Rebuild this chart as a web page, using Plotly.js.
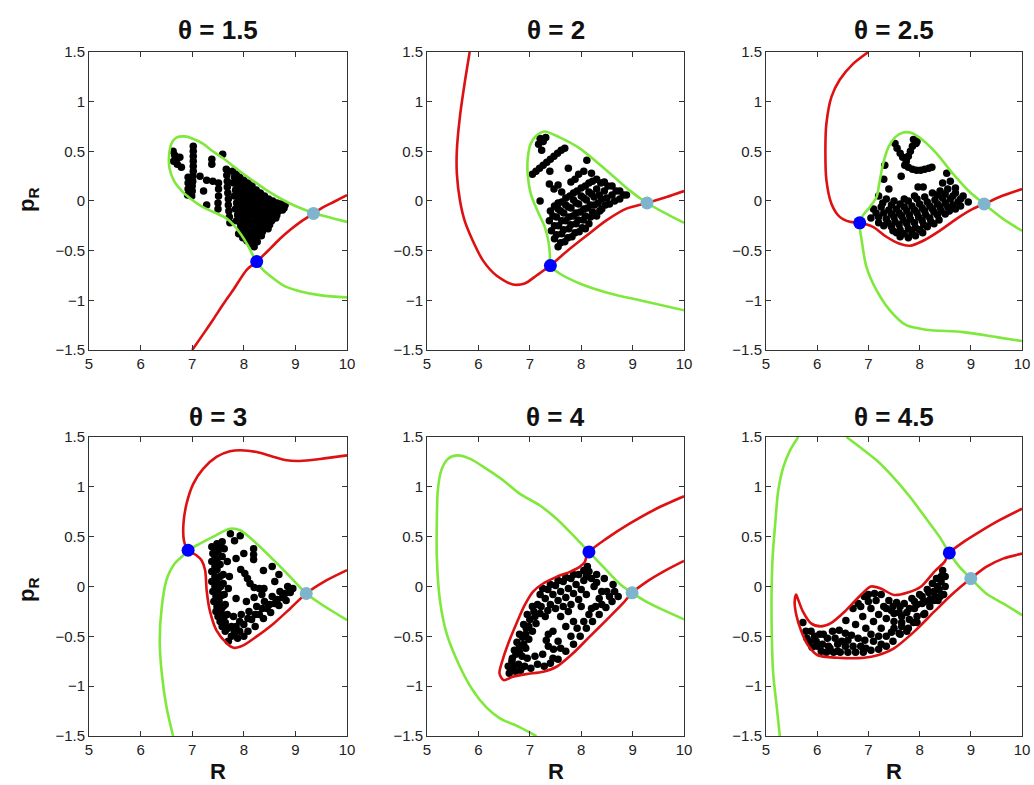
<!DOCTYPE html>
<html>
<head>
<meta charset="utf-8">
<script src="https://cdn.plot.ly/plotly-3.0.1.min.js"></script>
<style>html,body{margin:0;padding:0;background:#fff;}#chart{width:1034px;height:785px;}</style>
</head>
<body>
<div id="chart"></div>
<script>
// ---------- data ----------
const thetas = ['1.5', '2', '2.5', '3', '4', '4.5'];
const xTicks = [5, 6, 7, 8, 9, 10];
const yTicks = [-1.5, -1, -0.5, 0, 0.5, 1, 1.5];

// panel 1 (theta = 1.5)
const green1R = [10,9.7,9.35,9.0,8.8,8.5,8.3,8.0,7.8,7.6,7.4,7.2,7.0,6.85,6.7,6.6,6.55,6.56,6.65,6.8,6.95,7.2,7.45,7.65,7.8,7.95,8.08,8.18,8.25,8.35,8.5,8.8,9.1,9.5,10];
const green1P = [-0.21,-0.17,-0.12,-0.05,0.0,0.09,0.16,0.27,0.35,0.43,0.5,0.58,0.63,0.65,0.64,0.58,0.45,0.33,0.2,0.1,0.03,-0.06,-0.12,-0.17,-0.24,-0.34,-0.45,-0.55,-0.61,-0.68,-0.75,-0.86,-0.91,-0.95,-0.97];
const red1R = [7.0,7.2,7.41,7.6,7.8,8.06,8.25,8.51,8.7,8.9,9.1,9.35,9.55,9.74,10];
const red1P = [-1.5,-1.35,-1.19,-1.04,-0.89,-0.69,-0.61,-0.48,-0.38,-0.29,-0.21,-0.125,-0.06,-0.01,0.06];
const blue1 = [8.25, -0.61];
const lblue1 = [9.35, -0.125];
const dots1 = [[6.63,0.50],[6.66,0.46],[6.68,0.41],[6.71,0.37],[6.76,0.44],[6.79,0.34],[6.64,0.40],
[7.02,0.55],[7.02,0.50],[7.02,0.45],[7.02,0.40],[7.02,0.35],[7.02,0.30],[7.01,0.25],[7.01,0.20],[7.00,0.15],[7.00,0.10],[6.99,0.05],
[6.92,0.24],[6.92,0.18],[6.92,0.12],[6.91,0.06],[7.15,0.25],[7.28,0.21],[7.40,0.20],[7.22,0.10],
[7.38,0.42],[7.38,0.37],[7.59,0.47],[7.28,-0.04],
[7.51,0.18],[7.51,0.12],[7.51,0.05],[7.50,-0.02],[7.50,-0.08],
[7.66,0.32],[7.67,0.26],[7.68,0.20],[7.68,0.14],[7.69,0.08],[7.70,0.02],[7.70,-0.04],[7.71,-0.10],[7.72,-0.16],[7.73,-0.22],
[7.78,0.30],[7.85,0.27],[7.92,0.24],[8.00,0.21],[8.08,0.18],[8.16,0.15],[8.24,0.11],[8.32,0.08],[8.40,0.05],[8.48,0.02],[8.56,0.00],[8.64,-0.02],[8.72,-0.03],[8.80,-0.04],
[7.82,0.24],[7.90,0.21],[7.98,0.18],[8.06,0.15],[8.14,0.12],[8.22,0.09],[8.30,0.05],[8.38,0.02],[8.46,-0.01],[8.54,-0.03],[8.62,-0.05],[8.70,-0.06],[8.78,-0.07],
[7.80,0.18],[7.88,0.15],[7.95,0.12],[8.03,0.09],[8.11,0.06],[8.19,0.03],[8.27,0.00],[8.35,-0.03],[8.43,-0.05],[8.51,-0.07],[8.59,-0.09],[8.67,-0.10],[8.75,-0.09],
[7.84,0.11],[7.92,0.08],[8.00,0.05],[8.08,0.02],[8.16,-0.01],[8.24,-0.04],[8.32,-0.07],[8.40,-0.10],[8.48,-0.12],[8.56,-0.14],[8.64,-0.14],
[7.82,0.05],[7.90,0.02],[7.98,-0.01],[8.06,-0.04],[8.14,-0.07],[8.22,-0.10],[8.30,-0.13],[8.38,-0.16],[8.46,-0.18],[8.54,-0.20],[8.62,-0.17],
[7.86,-0.02],[7.94,-0.05],[8.02,-0.08],[8.10,-0.11],[8.18,-0.14],[8.26,-0.18],[8.34,-0.21],[8.42,-0.22],[8.50,-0.24],
[7.84,-0.08],[7.92,-0.11],[8.00,-0.14],[8.08,-0.17],[8.16,-0.21],[8.24,-0.24],[8.32,-0.27],[8.40,-0.27],[8.47,-0.28],
[7.88,-0.14],[7.96,-0.18],[8.04,-0.21],[8.12,-0.24],[8.20,-0.28],[8.28,-0.31],[8.36,-0.31],
[7.86,-0.20],[7.94,-0.24],[8.02,-0.27],[8.10,-0.31],[8.18,-0.34],[8.26,-0.36],[8.34,-0.35],
[7.94,-0.28],[8.02,-0.32],[8.10,-0.36],[8.18,-0.39],[8.26,-0.41],
[7.90,-0.33],[7.98,-0.37],[8.06,-0.40],[8.14,-0.43],[8.20,-0.46],[8.22,-0.40]];

// panel 2 (theta = 2)
const green2R = [10,9.66,9.28,8.94,8.49,7.97,7.58,7.29,7.13,7.02,6.96,6.96,7.02,7.15,7.29,7.36,7.39,7.40,7.58,7.97,8.49,9.14,10];
const green2P = [-0.22,-0.13,-0.02,0.107,0.31,0.53,0.64,0.70,0.66,0.58,0.43,0.26,0.07,-0.10,-0.26,-0.40,-0.53,-0.65,-0.73,-0.83,-0.92,-1.0,-1.10];
const red2R = [5.83,5.73,5.64,5.58,5.58,5.64,5.73,5.89,6.09,6.35,6.67,6.9,7.13,7.40,7.71,8.1,8.49,8.88,9.28,9.66,10];
const red2P = [1.5,1.18,0.85,0.51,0.275,0.007,-0.195,-0.40,-0.60,-0.75,-0.84,-0.83,-0.75,-0.65,-0.51,-0.35,-0.195,-0.077,-0.02,0.04,0.10];
const blue2 = [7.40, -0.65];
const lblue2 = [9.28, -0.02];
const dots2 = [[7.20,0.63],[7.26,0.60],[7.31,0.64],[7.17,0.57],[7.23,0.51],
[7.05,0.27],[7.12,0.30],[7.19,0.33],[7.26,0.36],[7.33,0.39],[7.40,0.42],[7.47,0.45],[7.54,0.48],[7.61,0.51],[7.68,0.53],
[7.39,0.30],[7.75,0.33],[8.11,0.41],[7.20,0.00],[7.38,0.17],[7.47,0.12],[7.55,0.16],[7.62,0.09],[7.80,0.19],[7.95,0.27],[8.05,0.30],[8.20,0.28],[7.88,0.22],
[7.55,-0.02],[7.70,0.03],[7.85,0.08],[8.00,0.13],[8.15,0.18],[8.30,0.22],[8.45,0.19],[8.60,0.15],[8.75,0.10],[8.88,0.06],
[7.48,-0.05],[7.62,-0.01],[7.78,0.05],[7.92,0.10],[8.08,0.15],[8.22,0.20],[8.38,0.18],[8.52,0.15],[8.68,0.10],[8.82,0.06],
[7.40,-0.10],[7.55,-0.08],[7.70,-0.04],[7.85,0.01],[8.00,0.05],[8.15,0.09],[8.30,0.12],[8.45,0.10],[8.60,0.06],[8.75,0.02],
[7.45,-0.15],[7.60,-0.10],[7.75,-0.06],[7.90,-0.02],[8.05,0.03],[8.20,0.07],[8.35,0.06],[8.50,0.03],[8.65,0.00],
[7.38,-0.20],[7.52,-0.16],[7.66,-0.12],[7.80,-0.07],[7.95,-0.03],[8.10,0.01],[8.25,0.04],[8.40,0.02],[8.55,-0.03],
[7.48,-0.25],[7.62,-0.20],[7.76,-0.16],[7.90,-0.12],[8.05,-0.08],[8.18,-0.04],[8.33,-0.02],[8.47,-0.04],
[7.42,-0.30],[7.56,-0.25],[7.70,-0.20],[7.84,-0.15],[7.98,-0.11],[8.12,-0.07],[8.26,-0.04],[8.40,-0.08],
[7.52,-0.34],[7.66,-0.29],[7.80,-0.24],[7.94,-0.19],[8.08,-0.15],[8.22,-0.11],[8.36,-0.10],
[7.48,-0.38],[7.62,-0.33],[7.76,-0.28],[7.90,-0.23],[8.04,-0.19],[8.18,-0.16],[8.30,-0.15],
[7.60,-0.42],[7.74,-0.37],[7.88,-0.32],[8.02,-0.27],[8.15,-0.23],
[7.55,-0.46],[7.68,-0.41],[7.82,-0.36],[7.96,-0.31],[8.08,-0.28]];

// panel 3 (theta = 2.5)
const green3R = [10,9.63,9.26,8.98,8.65,8.33,8.07,7.87,7.68,7.52,7.39,7.29,7.21,7.16,7.03,6.90,6.83,6.87,6.96,7.16,7.42,7.74,8.13,8.85,9.5,10];
const green3P = [-0.30,-0.18,-0.03,0.09,0.275,0.48,0.61,0.68,0.69,0.64,0.54,0.38,0.17,0.04,-0.06,-0.14,-0.22,-0.40,-0.66,-0.90,-1.10,-1.25,-1.295,-1.32,-1.37,-1.41];
const red3R = [7.0,6.70,6.44,6.28,6.18,6.16,6.18,6.28,6.44,6.64,6.83,7.09,7.35,7.61,7.81,8.07,8.39,8.72,9.04,9.26,9.56,10];
const red3P = [1.5,1.38,1.22,1.05,0.78,0.51,0.21,-0.03,-0.16,-0.21,-0.22,-0.26,-0.36,-0.43,-0.45,-0.40,-0.30,-0.18,-0.08,-0.03,0.04,0.12];
const blue3 = [6.83, -0.22];
const lblue3 = [9.26, -0.03];
const dots3 = [[7.88,0.62],[7.93,0.58],[7.95,0.60],[7.86,0.55],[7.82,0.50],[7.78,0.45],[7.74,0.40],[7.71,0.36],[7.78,0.34],[7.86,0.32],[7.94,0.31],[8.02,0.31],[8.10,0.32],[8.18,0.33],[8.24,0.34],
[7.52,0.58],[7.56,0.53],[7.62,0.48],[7.67,0.44],
[7.32,0.36],[7.64,0.25],[8.53,0.28],[7.97,0.14],[8.07,0.14],[7.30,0.22],[7.40,0.12],[8.60,0.20],[8.45,0.18],[8.70,0.13],
[7.20,0.05],[7.35,0.02],[7.50,0.00],[7.70,0.02],[7.90,0.05],[8.25,0.08],[8.40,0.10],[8.55,0.12],[8.70,0.08],[8.85,0.05],
[7.28,-0.02],[7.45,-0.04],[7.62,-0.03],[7.78,0.00],[7.95,0.02],[8.10,0.04],[8.35,0.06],[8.50,0.07],[8.65,0.05],[8.80,0.02],
[7.10,-0.08],[7.25,-0.06],[7.40,-0.09],[7.55,-0.08],[7.70,-0.06],[7.85,-0.05],[8.00,-0.03],[8.15,-0.01],[8.30,0.01],[8.45,0.03],[8.60,0.02],[8.75,-0.01],[8.95,-0.01],
[7.15,-0.12],[7.30,-0.12],[7.45,-0.13],[7.60,-0.12],[7.75,-0.10],[7.90,-0.09],[8.05,-0.07],[8.20,-0.05],[8.35,-0.03],[8.50,-0.02],[8.65,-0.04],[8.80,-0.05],
[7.05,-0.17],[7.20,-0.16],[7.35,-0.18],[7.50,-0.16],[7.65,-0.15],[7.80,-0.14],[7.95,-0.12],[8.10,-0.10],[8.25,-0.08],[8.40,-0.06],[8.55,-0.06],[8.70,-0.08],
[7.20,-0.22],[7.38,-0.22],[7.52,-0.21],[7.68,-0.19],[7.82,-0.18],[7.98,-0.16],[8.12,-0.14],[8.28,-0.11],[8.42,-0.10],[8.58,-0.10],
[7.30,-0.25],[7.45,-0.26],[7.60,-0.24],[7.75,-0.23],[7.90,-0.22],[8.05,-0.20],[8.20,-0.17],[8.35,-0.14],[8.50,-0.13],
[7.48,-0.30],[7.62,-0.29],[7.78,-0.28],[7.92,-0.27],[8.08,-0.24],[8.22,-0.21],[8.38,-0.19],
[7.55,-0.32],[7.70,-0.33],[7.85,-0.32],[8.00,-0.29],[8.15,-0.26],[8.28,-0.23],
[7.62,-0.36],[7.78,-0.37],[7.92,-0.35],[8.06,-0.32]];

// panel 4 (theta = 3)
const green4R = [6.63,6.50,6.41,6.37,6.41,6.50,6.66,6.83,6.92,7.15,7.41,7.73,7.93,8.25,8.58,8.90,9.21,9.48,10];
const green4P = [-1.5,-1.206,-0.872,-0.538,-0.204,0.063,0.23,0.314,0.364,0.43,0.50,0.58,0.565,0.43,0.264,0.097,-0.07,-0.17,-0.337];
const red4R = [10,9.48,9.09,8.83,8.58,8.25,7.93,7.73,7.47,7.21,7.02,6.89,6.83,6.84,6.92,7.08,7.18,7.25,7.28,7.34,7.47,7.67,7.80,7.99,8.25,8.58,8.90,9.21,9.55,10];
const red4P = [1.316,1.28,1.26,1.266,1.30,1.35,1.367,1.356,1.30,1.18,1.03,0.83,0.63,0.46,0.364,0.314,0.264,0.164,-0.04,-0.24,-0.44,-0.57,-0.615,-0.59,-0.50,-0.37,-0.22,-0.07,0.047,0.164];
const blue4 = [6.92, 0.364];
const lblue4 = [9.21, -0.07];
const dots4 = [[7.74,0.53],[7.93,0.51],[7.82,0.46],
[7.38,0.40],[7.48,0.43],[7.58,0.45],[7.40,0.33],[7.50,0.35],[7.62,0.38],[7.38,0.25],[7.48,0.27],[7.58,0.30],[7.68,0.25],
[7.44,0.38],[7.54,0.40],[7.44,0.30],[7.54,0.22],[7.44,0.20],[7.44,0.10],[7.54,0.10],[7.44,0.00],[7.55,0.00],[7.46,-0.10],[7.57,-0.09],
[7.48,-0.20],[7.60,-0.20],[7.50,-0.30],[7.62,-0.30],[7.58,-0.40],[7.70,-0.42],[7.70,-0.55],[7.70,-0.02],[7.72,0.10],
[7.38,0.15],[7.48,0.17],[7.60,0.12],[7.38,0.05],[7.48,0.06],[7.60,0.03],[7.40,-0.05],[7.50,-0.04],[7.62,-0.08],
[7.42,-0.15],[7.52,-0.14],[7.64,-0.18],[7.46,-0.25],[7.56,-0.24],[7.68,-0.28],[7.54,-0.35],[7.64,-0.36],[7.76,-0.40],[7.64,-0.45],[7.76,-0.50],[7.88,-0.52],[8.00,-0.50],
[7.94,0.17],[8.02,0.13],[8.07,0.08],[8.12,0.03],[8.20,-0.01],[8.30,-0.02],[8.39,-0.02],
[8.19,0.38],[8.19,0.32],[8.19,0.27],[8.38,0.16],[8.55,0.20],[8.68,0.12],[7.85,0.28],[8.00,0.33],
[7.85,-0.40],[8.00,-0.38],[8.15,-0.33],[8.30,-0.28],[8.45,-0.22],[8.60,-0.17],[8.75,-0.11],[8.90,-0.06],
[7.82,-0.46],[7.92,-0.45],[8.08,-0.45],[8.22,-0.40],[8.38,-0.32],[8.52,-0.26],[8.68,-0.19],[8.82,-0.14],
[7.92,-0.35],[8.08,-0.32],[8.22,-0.28],[8.36,-0.22],[8.50,-0.18],[8.65,-0.13],[8.80,-0.07],[8.95,-0.02],
[7.80,-0.30],[7.95,-0.28],[8.10,-0.25],[8.25,-0.20],[8.40,-0.15],[8.55,-0.10],[8.70,-0.05],[8.85,0.00],
[8.05,-0.15],[8.20,-0.11],[8.35,-0.08],[7.85,-0.12],[8.60,0.05]];

// panel 5 (theta = 4)
const green5R = [7.13,6.80,6.41,6.15,5.89,5.64,5.38,5.25,5.19,5.19,5.21,5.28,5.41,5.60,5.83,6.15,6.48,6.80,7.19,7.52,7.84,8.15,8.49,8.78,8.99,9.33,10];
const green5P = [-1.5,-1.41,-1.32,-1.21,-1.04,-0.805,-0.47,-0.137,0.30,0.63,0.966,1.17,1.283,1.316,1.283,1.183,1.066,0.932,0.815,0.68,0.515,0.347,0.164,0.013,-0.063,-0.17,-0.33];
const red5R = [10,9.46,8.94,8.49,8.15,8.10,8.07,7.97,7.78,7.52,7.26,7.06,6.90,6.74,6.58,6.47,6.41,6.49,6.67,6.93,7.26,7.52,7.84,8.16,8.49,8.81,8.99,9.27,9.59,10];
const red5P = [0.905,0.78,0.63,0.48,0.347,0.297,0.247,0.197,0.147,0.097,0.03,-0.053,-0.187,-0.37,-0.571,-0.738,-0.87,-0.939,-0.905,-0.879,-0.855,-0.805,-0.67,-0.505,-0.337,-0.17,-0.063,0.047,0.147,0.257];
const blue5 = [8.15, 0.347];
const lblue5 = [8.99, -0.063];
const dots5 = [[7.20,-0.08],[7.35,-0.03],[7.50,0.01],[7.65,0.05],[7.80,0.08],[7.95,0.12],[8.05,0.16],[8.12,0.20],[8.15,0.15],[8.05,0.06],[7.90,0.02],[7.75,-0.02],[7.60,-0.05],[7.45,-0.08],[7.30,-0.12],[7.40,-0.18],[7.55,-0.14],[7.70,-0.11],[7.85,-0.07],[8.00,-0.03],[8.20,0.08],[8.25,0.00],
[7.25,-0.02],[7.40,0.02],[7.55,0.06],[7.70,0.09],[7.85,0.12],[7.22,-0.20],[7.35,-0.24],[7.50,-0.22],[7.65,-0.20],[7.80,-0.18],[7.95,-0.13],[8.10,0.10],[8.30,0.04],[8.40,-0.05],[8.55,-0.10],[8.65,-0.05],
[7.15,-0.18],[7.08,-0.25],[7.20,-0.27],[7.00,-0.33],[7.12,-0.37],[6.93,-0.42],[7.05,-0.45],[6.86,-0.51],[6.98,-0.53],[6.80,-0.60],[6.92,-0.62],[6.73,-0.68],[6.85,-0.70],[6.65,-0.75],[6.78,-0.78],[6.62,-0.82],[6.72,-0.85],
[7.05,-0.20],[6.95,-0.28],[7.10,-0.30],[6.88,-0.38],[6.98,-0.40],[6.80,-0.48],[6.92,-0.48],[6.75,-0.56],[6.88,-0.58],[6.70,-0.64],[6.80,-0.66],[6.66,-0.72],[6.95,-0.72],[6.58,-0.80],[6.68,-0.80],[6.82,-0.84],[6.60,-0.87],
[6.90,-0.80],[7.02,-0.82],[7.15,-0.78],[7.28,-0.80],[7.40,-0.77],[7.10,-0.70],[7.25,-0.68],[7.55,-0.73],
[7.45,-0.45],[7.36,-0.48],[7.32,-0.54],[7.36,-0.60],[7.46,-0.63],
[7.60,-0.30],[7.75,-0.25],[7.70,-0.40],[7.85,-0.35],[7.55,-0.55],[7.30,-0.30],
[7.70,-0.65],[7.85,-0.58],[7.98,-0.50],[8.10,-0.42],[8.22,-0.35],[8.35,-0.28],[8.48,-0.21],[8.60,-0.15],[8.72,-0.10],[8.20,-0.22],[8.35,-0.12],[8.50,-0.05],[8.62,0.02],[8.45,0.08],[8.30,0.12],[8.00,-0.20],[8.10,-0.08],
[7.80,-0.50],[7.92,-0.42],[8.05,-0.35],[8.15,-0.28],[8.28,-0.20],[7.60,-0.62],[7.45,-0.72],[8.40,-0.18]];

// panel 6 (theta = 4.5)
const green6aR = [5.27,5.21,5.14,5.11,5.11,5.13,5.18,5.24,5.34,5.47,5.63];
const green6aP = [-1.5,-1.206,-0.872,-0.37,-0.037,0.297,0.63,0.966,1.20,1.366,1.5];
const green6bR = [6.57,6.83,7.16,7.48,7.81,8.13,8.39,8.58,8.78,9.0,9.30,9.63,10];
const green6bP = [1.5,1.40,1.266,1.10,0.90,0.68,0.498,0.337,0.197,0.08,-0.07,-0.17,-0.287];
const red6R = [10,9.56,9.17,8.86,8.58,8.49,8.29,8.03,7.77,7.5,7.24,7.05,6.86,6.54,6.26,6.07,5.88,5.72,5.62,5.59,5.56,5.59,5.69,5.82,6.01,6.40,6.92,7.18,7.5,7.9,8.29,8.62,9.0,9.30,9.63,10];
const red6P = [0.78,0.665,0.548,0.448,0.337,0.25,0.15,0.0,-0.06,-0.085,-0.02,0.0,-0.08,-0.25,-0.37,-0.40,-0.37,-0.25,-0.12,-0.08,-0.15,-0.28,-0.45,-0.59,-0.69,-0.715,-0.715,-0.69,-0.62,-0.45,-0.25,-0.085,0.08,0.197,0.28,0.33];
const blue6 = [8.58, 0.337];
const lblue6 = [9.0, 0.08];
const dots6 = [[8.45,0.16],[8.50,0.10],[8.42,0.05],[8.50,0.00],[8.38,-0.03],[8.47,-0.08],[8.30,-0.10],[8.40,-0.10],
[7.00,-0.08],[7.12,-0.07],[7.25,-0.08],[7.40,-0.14],[7.55,-0.16],[7.70,-0.17],[7.85,-0.12],[8.00,-0.08],[8.15,-0.03],[8.25,0.03],[8.33,0.08],
[7.00,-0.15],[7.15,-0.14],[7.30,-0.20],[7.45,-0.24],[7.60,-0.26],[7.75,-0.26],[7.90,-0.22],[8.05,-0.17],[8.20,-0.13],[8.28,-0.14],
[7.05,-0.22],[7.20,-0.28],[7.35,-0.22],[7.50,-0.27],[7.65,-0.30],[7.80,-0.22],[7.95,-0.18],[8.10,-0.15],[8.18,-0.06],[8.05,-0.10],[7.90,-0.15],[7.62,-0.20],[7.48,-0.20],
[6.92,-0.10],[6.85,-0.20],[6.80,-0.17],
[7.35,-0.32],[7.50,-0.35],[7.65,-0.36],[7.80,-0.33],[7.95,-0.30],[8.10,-0.27],[7.25,-0.42],[7.45,-0.46],[7.60,-0.47],[7.75,-0.45],[7.88,-0.36],[7.10,-0.35],
[7.20,-0.50],[7.35,-0.50],[7.50,-0.42],[7.65,-0.40],[7.05,-0.48],[6.95,-0.42],[6.75,-0.38],
[6.56,-0.34],[6.89,-0.30],[6.70,-0.22],
[6.43,-0.44],[6.55,-0.47],[6.67,-0.49],[6.80,-0.52],[6.93,-0.54],
[5.72,-0.36],[5.78,-0.45],[5.80,-0.52],[5.85,-0.55],[5.90,-0.61],[5.95,-0.50],[6.05,-0.48],[6.00,-0.60],[6.10,-0.58],[6.20,-0.52],[6.30,-0.45],[6.08,-0.65],[6.25,-0.62],[6.40,-0.58],
[5.88,-0.45],[5.98,-0.55],[6.12,-0.48],[6.22,-0.60],[6.35,-0.52],[6.48,-0.55],[6.60,-0.54],[6.70,-0.60],[6.95,-0.62],[7.25,-0.58],[6.40,-0.65],
[6.18,-0.66],[6.32,-0.66],[6.45,-0.66],[6.60,-0.66],[6.75,-0.66],[6.90,-0.66],[7.05,-0.64],[7.20,-0.63],[7.35,-0.60],[7.48,-0.55],[6.55,-0.60],[6.85,-0.60],[7.10,-0.55],
[7.62,-0.48],[7.78,-0.42],[7.95,-0.36],[8.08,-0.28],[8.20,-0.20],
[8.35,0.00],[8.42,0.10],[8.28,-0.05],[8.36,-0.14]];

// ---------- build ----------
const GREEN = '#7fe83c', RED = '#dd1111', BLUE = '#0000ff', LBLUE = '#7fb5cc';
const panels = [
  {dots: dots1, greens: [[green1R, green1P]], reds: [[red1R, red1P]], blue: blue1, lblue: lblue1},
  {dots: dots2, greens: [[green2R, green2P]], reds: [[red2R, red2P]], blue: blue2, lblue: lblue2},
  {dots: dots3, greens: [[green3R, green3P]], reds: [[red3R, red3P]], blue: blue3, lblue: lblue3},
  {dots: dots4, greens: [[green4R, green4P]], reds: [[red4R, red4P]], blue: blue4, lblue: lblue4},
  {dots: dots5, greens: [[green5R, green5P]], reds: [[red5R, red5P]], blue: blue5, lblue: lblue5},
  {dots: dots6, greens: [[green6aR, green6aP], [green6bR, green6bP]], reds: [[red6R, red6P]], blue: blue6, lblue: lblue6}
];

const traces = [];
panels.forEach((p, i) => {
  const xa = 'x' + (i === 0 ? '' : i + 1), ya = 'y' + (i === 0 ? '' : i + 1);
  traces.push({type: 'scatter', mode: 'markers', x: p.dots.map(d => d[0]), y: p.dots.map(d => d[1]),
    xaxis: xa, yaxis: ya, marker: {color: '#000', size: 7.5}, hoverinfo: 'skip'});
  p.greens.forEach(g => traces.push({type: 'scatter', mode: 'lines', x: g[0], y: g[1], xaxis: xa, yaxis: ya,
    line: {color: GREEN, width: 2.6, shape: 'spline', smoothing: 0.8}}));
  p.reds.forEach(r => traces.push({type: 'scatter', mode: 'lines', x: r[0], y: r[1], xaxis: xa, yaxis: ya,
    line: {color: RED, width: 2.6, shape: 'spline', smoothing: 0.8}}));
  traces.push({type: 'scatter', mode: 'markers', x: [p.blue[0]], y: [p.blue[1]], xaxis: xa, yaxis: ya,
    marker: {color: BLUE, size: 13}, cliponaxis: false});
  traces.push({type: 'scatter', mode: 'markers', x: [p.lblue[0]], y: [p.lblue[1]], xaxis: xa, yaxis: ya,
    marker: {color: LBLUE, size: 13}, cliponaxis: false});
});

const xDomains = [[0.0861, 0.3356], [0.4130, 0.6615], [0.7408, 0.9884]];
const yDomains = [[0.5541, 0.9338], [0.0624, 0.4433]];
const tickFont = {family: 'Liberation Sans, Arial, sans-serif', size: 15, color: '#222'};
const layout = {
  width: 1034, height: 785, margin: {l: 0, r: 0, t: 0, b: 0},
  paper_bgcolor: '#fff', plot_bgcolor: '#fff', showlegend: false,
  annotations: []
};
for (let i = 0; i < 6; i++) {
  const row = Math.floor(i / 3), col = i % 3;
  const sfx = i === 0 ? '' : String(i + 1);
  layout['xaxis' + sfx] = {domain: xDomains[col], anchor: 'y' + sfx, range: [5, 10], tickvals: xTicks,
    ticks: 'inside', ticklen: 5, tickcolor: '#333', showline: true, linecolor: '#333', linewidth: 1,
    mirror: 'ticks', showgrid: false, zeroline: false, tickfont: tickFont, fixedrange: true};
  layout['yaxis' + sfx] = {domain: yDomains[row], anchor: 'x' + sfx, range: [-1.5, 1.5], tickvals: yTicks,
    ticks: 'inside', ticklen: 5, tickcolor: '#333', showline: true, linecolor: '#333', linewidth: 1,
    mirror: 'ticks', showgrid: false, zeroline: false, tickfont: tickFont, fixedrange: true};
  const cx = (xDomains[col][0] + xDomains[col][1]) / 2;
  layout.annotations.push({xref: 'paper', yref: 'paper', x: cx, y: row === 0 ? 0.9618 : 0.4688,
    xanchor: 'center', yanchor: 'middle', showarrow: false,
    text: '<b>θ = ' + thetas[i] + '</b>', font: {family: 'Liberation Sans, Arial, sans-serif', size: 26, color: '#111'}});
  if (row === 1) {
    layout.annotations.push({xref: 'paper', yref: 'paper', x: cx, y: 0, xanchor: 'center', yanchor: 'bottom',
      borderpad: 0, showarrow: false, text: '<b>R</b>', font: {family: 'Liberation Sans, Arial, sans-serif', size: 22, color: '#111'}});
  }
  if (col === 0) {
    layout.annotations.push({xref: 'paper', yref: 'paper', x: 0.0271, y: row === 0 ? 0.7452 : 0.2484,
      xanchor: 'center', yanchor: 'middle', textangle: -90, showarrow: false,
      text: '<b>p<sub>R</sub></b>', font: {family: 'Liberation Sans, Arial, sans-serif', size: 22, color: '#111'}});
  }
}

Plotly.newPlot('chart', traces, layout, {displayModeBar: false, staticPlot: true});
</script>
</body>
</html>
